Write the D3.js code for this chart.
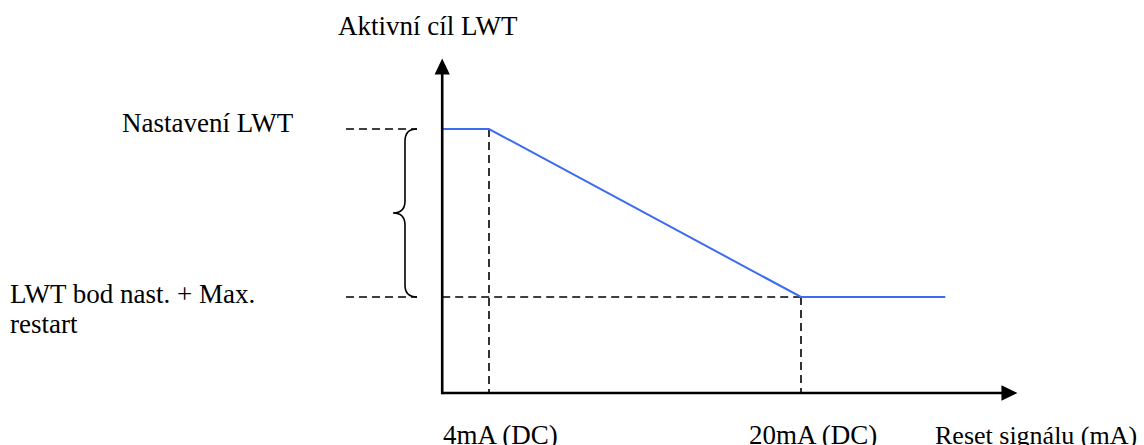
<!DOCTYPE html>
<html lang="cs">

<head>
    <meta charset="UTF-8">
    <title>Aktivní cíl LWT</title>
    <style>
        body {
            margin: 0;
            background: #fff;
        }

        svg text {
            font-family: "Liberation Serif", "Times New Roman", serif;
            font-size: 27px;
            fill: #000;
        }

        svg text.x-title {
            font-size: 26px;
        }

        .guide {
            fill: none;
            stroke: #000;
            stroke-width: 1.6;
            stroke-dasharray: 8, 5;
        }

        .axis-line {
            stroke: #000;
            stroke-width: 2.6;
        }
    </style>
</head>

<body>
    <svg width="1144" height="445"></svg>

    <script src="https://d3js.org/d3.v7.min.js"></script>
    <script>
        // reset signal (mA) at the two break points
        const breakSignals = [4, 20];
        const breakLabels = ["4mA (DC)", "20mA (DC)"];
        // active LWT target: 1 = setpoint, 0 = setpoint + max reset
        const curveSignal = [1.6, 4, 20, 27.4];
        const curveLevel = [1, 1, 0, 0];
        const levelValues = [1, 0];
        const levelLabels = [["Nastavení LWT"], ["LWT bod nast. + Max.", "restart"]];
        const yTitle = "Aktivní cíl LWT";
        const xTitle = "Reset signálu (mA)";
        // axis extents in the same units
        const xAxisRange = [1.6, 31.1];
        const yAxisRange = [-0.571, 1.42];

        const svg = d3.select("svg");

        const x = d3.scaleLinear()
            .domain([4, 20])
            .range([489, 801]);

        const y = d3.scaleLinear()
            .domain([0, 1])
            .range([297, 129]);

        const x0 = x(xAxisRange[0]),
            y0 = y(yAxisRange[0]);

        // dashed guides from the breaks
        breakSignals.forEach(function (s, i) {
            svg.append("line")
                .attr("class", "guide")
                .attr("x1", x(s)).attr("x2", x(s))
                .attr("y1", y(curveLevel[i + 1])).attr("y2", y0);
        });

        svg.append("line")
            .attr("class", "guide")
            .attr("x1", x0).attr("x2", x(breakSignals[1]))
            .attr("y1", y(0)).attr("y2", y(0));

        // short dashes left of the axis, at each level
        levelValues.forEach(function (v) {
            svg.append("line")
                .attr("class", "guide")
                .attr("x1", 346).attr("x2", 417)
                .attr("y1", y(v)).attr("y2", y(v));
        });

        // curly brace between the two levels
        const yt = y(1), yb = y(0), ym = (yt + yb) / 2;
        const bx = 405, r = 12;
        svg.append("path")
            .attr("fill", "none")
            .attr("stroke", "#000")
            .attr("stroke-width", 1.6)
            .attr("d", `M${bx + r},${yt} Q${bx},${yt} ${bx},${yt + r}
                L${bx},${ym - r} Q${bx},${ym} ${bx - r},${ym}
                Q${bx},${ym} ${bx},${ym + r}
                L${bx},${yb - r} Q${bx},${yb} ${bx + r},${yb}`);

        // reset curve
        const line = d3.line()
            .x(d => x(d[0]))
            .y(d => y(d[1]));

        svg.append("path")
            .datum(d3.zip(curveSignal, curveLevel))
            .attr("fill", "none")
            .attr("stroke", "#3d6cf2")
            .attr("stroke-width", 2)
            .attr("d", line);

        // axes with arrow heads
        const xEnd = x(xAxisRange[1]),
            yEnd = y(yAxisRange[1]);

        svg.append("line")
            .attr("class", "axis-line")
            .attr("x1", x0).attr("y1", y0)
            .attr("x2", xEnd - 15).attr("y2", y0);

        svg.append("line")
            .attr("class", "axis-line")
            .attr("x1", x0).attr("y1", y0 + 1.3)
            .attr("x2", x0).attr("y2", yEnd + 15);

        svg.append("path")
            .attr("d", `M${xEnd},${y0} L${xEnd - 16},${y0 - 7.7} L${xEnd - 16},${y0 + 7.7} Z`);

        svg.append("path")
            .attr("d", `M${x0},${yEnd} L${x0 - 7.6},${yEnd + 16} L${x0 + 7.6},${yEnd + 16} Z`);

        // texts
        svg.append("text")
            .attr("x", 338)
            .attr("y", 35)
            .text(yTitle);

        breakSignals.forEach(function (s, i) {
            svg.append("text")
                .attr("x", x(s) - (i === 0 ? 46 : 52))
                .attr("y", 444)
                .text(breakLabels[i]);
        });

        svg.append("text")
            .attr("class", "x-title")
            .attr("x", 935)
            .attr("y", 444)
            .text(xTitle);

        const labelPos = [[122, 132], [10, 303]];
        levelLabels.forEach(function (lines, i) {
            const t = svg.append("text")
                .attr("x", labelPos[i][0])
                .attr("y", labelPos[i][1]);
            lines.forEach(function (s, j) {
                t.append("tspan")
                    .attr("x", labelPos[i][0])
                    .attr("dy", j === 0 ? 0 : 30)
                    .text(s);
            });
        });
    </script>
</body>

</html>
